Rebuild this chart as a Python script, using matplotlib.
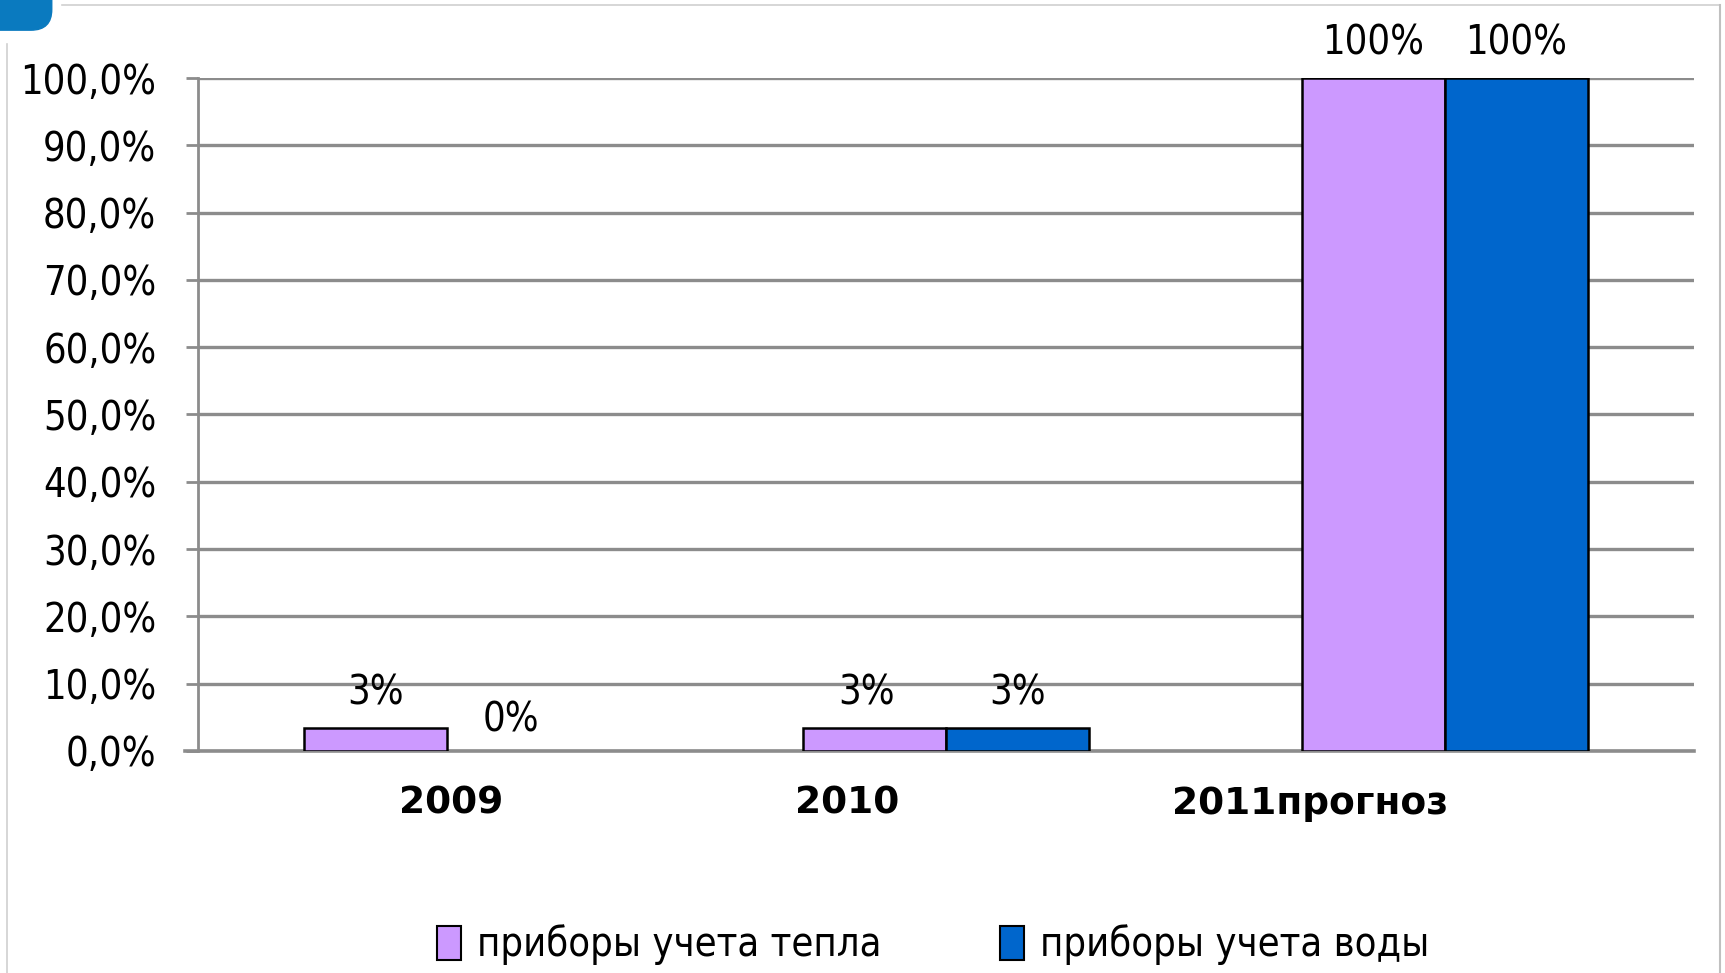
import matplotlib
matplotlib.use("Agg")
import matplotlib.pyplot as plt
from matplotlib.patches import FancyBboxPatch
from matplotlib.lines import Line2D
from matplotlib.ticker import FuncFormatter
from matplotlib.transforms import ScaledTranslation
import numpy as np

categories = ["2009", "2010", "2011прогноз"]
heat = [0.034, 0.034, 1.0]
water = [0.0, 0.034, 1.0]
heat_labels = ["3%", "3%", "100%"]
water_labels = ["0%", "3%", "100%"]
series_names = ["приборы учета тепла", "приборы учета воды"]
yticks = np.arange(0, 1.01, 0.1)

heat_color = "#cc99ff"
water_color = "#0066cc"
grid_color = "#8c8c8c"

# horizontal nudges (points) as in the original slide
cat_shift = [3, -71, -97]
heat_shift = [0, -6, 0]
water_shift = [-6, 0, 0]

plt.rcParams['font.family'] = ['DejaVu Sans']

fig = plt.figure(figsize=(17.25, 9.73), dpi=100)
ax = fig.add_axes([0.1148, 0.2282, 0.8672, 0.6916])

x = np.arange(len(categories))
w = 0.287
ax.bar(x - w / 2, heat, w, color=heat_color, edgecolor="black",
       linewidth=[1.8 if v > 0 else 0 for v in heat], zorder=3, label=series_names[0])
ax.bar(x + w / 2, water, w, color=water_color, edgecolor="black",
       linewidth=[1.8 if v > 0 else 0 for v in water], zorder=3, label=series_names[1])

def nudge(dx, dy=0):
    return ScaledTranslation(dx / 72, dy / 72, fig.dpi_scale_trans)

lab_font = dict(fontsize=28.5, fontstretch="condensed", ha="center", va="center")
for i in range(len(categories)):
    ax.text(x[i] - w / 2, heat[i] + 0.052, heat_labels[i],
            transform=ax.transData + nudge(heat_shift[i]), **lab_font)
    yy = water[i] + 0.052 if water[i] > 0 else 0.045
    ax.text(x[i] + w / 2, yy, water_labels[i],
            transform=ax.transData + nudge(water_shift[i]), **lab_font)

# category labels (drawn as text so they can keep the slide's offsets)
for i, c in enumerate(categories):
    ax.text(x[i], 0, c, fontsize=27, fontweight="bold", ha="center", va="center",
            transform=ax.get_xaxis_transform() + nudge(cat_shift[i], -38))

ax.set_xlim(-0.5, len(categories) - 0.5)
ax.set_ylim(0, 1.0)
ax.set_yticks(yticks)
ax.yaxis.set_major_formatter(FuncFormatter(lambda v, p: f"{v * 100:.1f}%".replace(".", ",")))
ax.set_xticks([])
for t in ax.get_yticklabels():
    t.set_fontsize(28.5)
    t.set_fontstretch("condensed")

ax.grid(axis="y", color=grid_color, linewidth=2.4, zorder=0)
ax.set_axisbelow(True)
ax.tick_params(axis="y", length=9, width=2, color=grid_color, pad=21)
for s in ["top", "right"]:
    ax.spines[s].set_visible(False)
ax.spines["left"].set_color(grid_color)
ax.spines["left"].set_linewidth(2)
ax.spines["bottom"].set_color(grid_color)
ax.spines["bottom"].set_linewidth(2.6)
ax.spines["bottom"].set_bounds(-0.5 - 0.009 * 3, len(categories) - 0.5)

leg = fig.legend(loc="center", bbox_to_anchor=(0.541, 0.029), ncol=2, frameon=False,
                 handlelength=0.6, handleheight=0.95, handletextpad=0.4,
                 columnspacing=3.0, prop=dict(size=28.5, stretch="condensed"))
for h in leg.legend_handles:
    h.set_linewidth(1.5)

# slide frame
fig.add_artist(Line2D([0.036, 0.997], [0.995, 0.995], transform=fig.transFigure,
                      color="#d0d0d0", linewidth=1.2))
fig.add_artist(Line2D([0.997, 0.997], [0.995, 0.0], transform=fig.transFigure,
                      color="#c0c0c0", linewidth=1.5))
fig.add_artist(Line2D([0.004, 0.004], [0.955, 0.0], transform=fig.transFigure,
                      color="#d0d0d0", linewidth=1.2))
fig.add_artist(FancyBboxPatch((-0.02, 0.969), 0.05, 0.055, boxstyle="round,pad=0,rounding_size=0.012",
                              transform=fig.transFigure, color="#0a7abf", mutation_aspect=1.77))

fig.savefig("out.png", dpi=100)
